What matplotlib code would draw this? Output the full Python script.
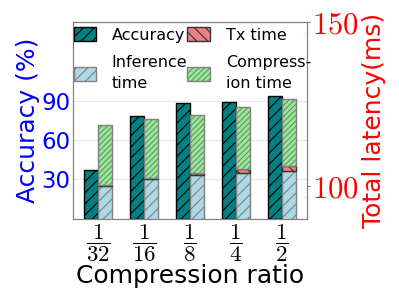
import numpy as np
import matplotlib
matplotlib.use("Agg")
import matplotlib.pyplot as plt
from matplotlib.patches import Patch

plt.rcParams['mathtext.fontset'] = 'cm'
plt.rcParams['hatch.linewidth'] = 0.8

# ============================================================
# Data
# ============================================================
ratios = [r"$\dfrac{1}{32}$", r"$\dfrac{1}{16}$", r"$\dfrac{1}{8}$",
          r"$\dfrac{1}{4}$", r"$\dfrac{1}{2}$"]
accuracy = [37.0, 78.4, 88.6, 89.4, 93.7]
inference_ms = [100.0, 102.0, 103.3, 103.8, 104.5]
tx_ms = [0.4, 0.5, 0.7, 1.3, 1.6]
compression_ms = [18.3, 17.9, 17.7, 19.1, 20.4]

acc_ticks = [30, 60, 90]
lat_ticks = [100, 150]

# ============================================================
# Plot
# ============================================================
fig = plt.figure(figsize=(3.99, 2.99), dpi=100)
ax = fig.add_axes([0.184, 0.269, 0.585, 0.656])
ax2 = ax.twinx()

x = np.arange(len(ratios))
w = 0.3

ax.bar(x - w / 2, accuracy, w, color='#008080', edgecolor='black',
       hatch='///', lw=1, zorder=3)

inf = np.array(inference_ms)
tx = np.array(tx_ms)
comp = np.array(compression_ms)

ax2.bar(x + w / 2, inf, w, color='lightblue', edgecolor='gray',
        hatch='///', lw=1)
ax2.bar(x + w / 2, tx, w, bottom=inf, color='lightcoral', edgecolor='#333333',
        hatch='\\\\\\', lw=1)
ax2.bar(x + w / 2, comp, w, bottom=inf + tx, color='lightgreen',
        edgecolor='gray', hatch='//////', lw=1)

# ============================================================
# Axes formatting
# ============================================================
ax.set_xlim(-0.54, 4.54)
ax.set_ylim(0, 150)
ax2.set_ylim(90, 150)

ax.set_yticks(acc_ticks)
ax.set_yticklabels([str(v) for v in acc_ticks], color='blue', fontsize=16.5)
ax.tick_params(axis='y', length=0, pad=2)
ax.grid(axis='y', color='#e6e6e6', lw=0.8, zorder=0)
ax.set_axisbelow(True)

ax2.set_yticks(lat_ticks)
ax2.set_yticklabels([f"${v}$" for v in lat_ticks], color='red', fontsize=22)
ax2.tick_params(axis='y', length=2, pad=2, color='gray')

ax.set_xticks(x)
ax.set_xticklabels(ratios, fontsize=16.5)
ax.tick_params(axis='x', length=0, pad=3)

for a in (ax, ax2):
    for s in a.spines.values():
        s.set_color('gray')

ax.set_ylabel("Accuracy (%)", color='blue', fontsize=18, labelpad=1)
ax2.set_ylabel("Total latency(ms)", color='red', fontsize=18, labelpad=2)
ax.set_xlabel("Compression ratio", fontsize=18, labelpad=0)

handles = [
    Patch(facecolor='#008080', edgecolor='black', hatch='///'),
    Patch(facecolor='lightblue', edgecolor='gray', hatch='///'),
    Patch(facecolor='lightcoral', edgecolor='#333333', hatch='\\\\\\'),
    Patch(facecolor='lightgreen', edgecolor='gray', hatch='//////'),
]
labels = ["Accuracy", "Inference\ntime", "Tx time", "Compress-\nion time"]
leg = ax2.legend(handles, labels, ncol=2, loc='upper left',
                 bbox_to_anchor=(-0.02, 1), borderaxespad=0, borderpad=0.3,
                 frameon=False, fontsize=11.5, handlelength=1.4,
                 handleheight=0.95, handletextpad=1.0, columnspacing=0.0,
                 labelspacing=0.8)
for t in leg.get_texts():
    t.set_linespacing(1.5)

fig.savefig("out.png", dpi=100)
